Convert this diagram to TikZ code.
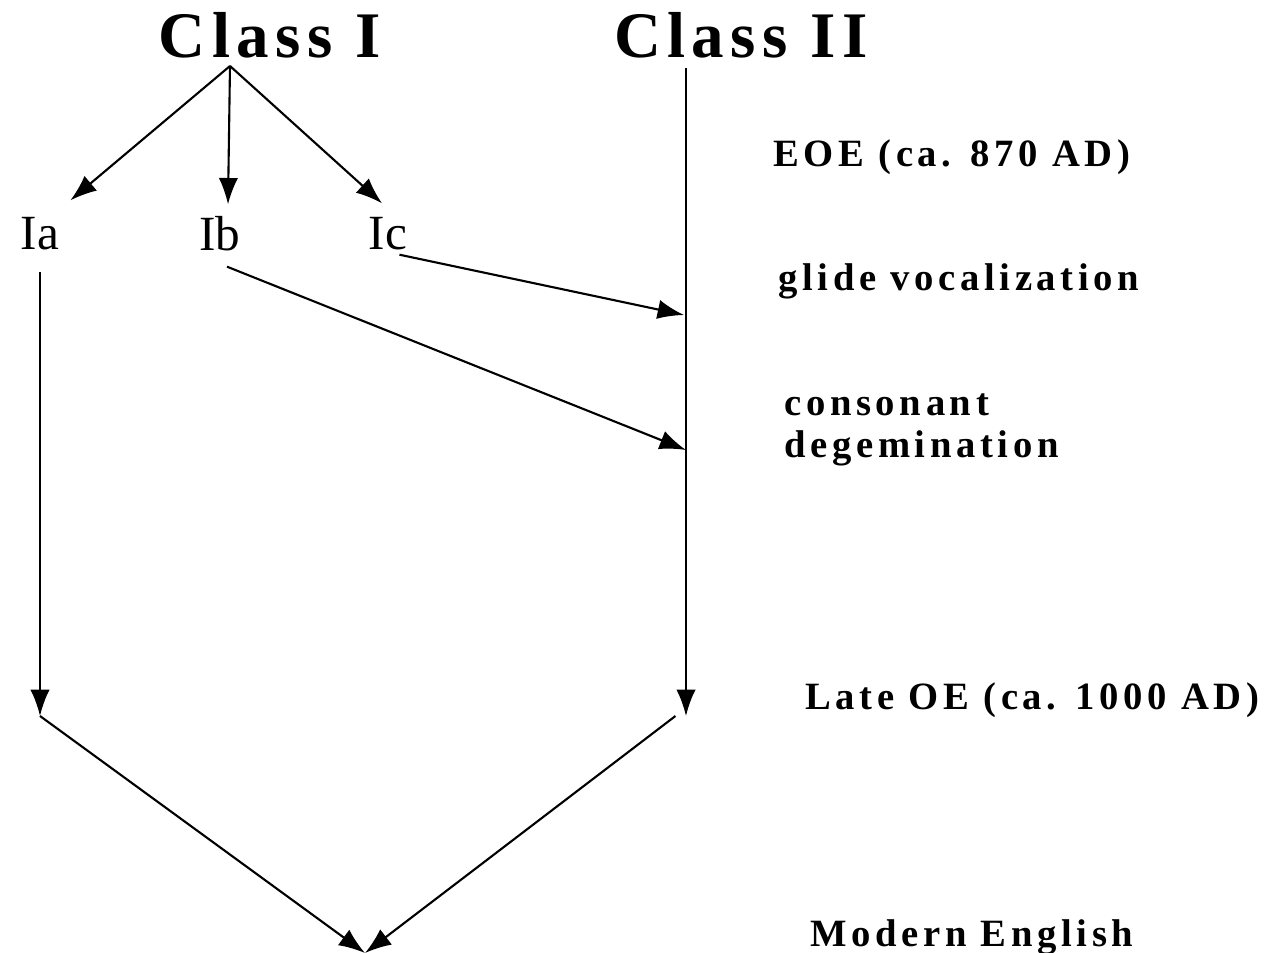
\documentclass[tikz,border=0pt]{standalone}
\usepackage{fontspec}
\setmainfont{Liberation Serif}
\newfontfamily\classfont{Liberation Serif}[LetterSpace=10]
\newfontfamily\stagefont{Liberation Serif}[LetterSpace=12]
\usetikzlibrary{arrows.meta}

\begin{document}
\begin{tikzpicture}[x=0.02cm,y=-0.02cm,
		cls/.style={inner sep=0pt,font=\classfont\bfseries\fontsize{37}{40}\selectfont},
		sub/.style={inner sep=0pt,font=\fontsize{28}{30}\selectfont},
		stage/.style={inner sep=0pt,anchor=west,align=left,font=\stagefont\bfseries\fontsize{22}{24}\selectfont},
		arr/.style={line width=1.2pt,-{Latex[length=15pt,width=11pt]}}]
			\useasboundingbox (0,0) rectangle (1268,953);
			% classes and subclasses
			\node [cls] (cls1) at (270,35) {Class I};
			\node [cls] (cls2) at (741,35) {Class II};
			\node [sub] (Ia) at (40,234) {Ia};
			\node [sub] (Ib) at (220,234) {Ib};
			\node [sub] (Ic) at (388,234) {Ic};
			% stage labels
			\node [stage] (eoe) at (773,157) {EOE (ca. 870 AD)};
			\node [stage] (glide) at (778,281) {glide vocalization};
			\node [stage] (degem) at (784,430) {consonant\\degemination};
			\node [stage] (late) at (805,700) {Late OE (ca. 1000 AD)};
			\node [stage] (modern) at (810,937) {Modern English};
			% points on the lines
			\coordinate (top1) at (230,66);
			\coordinate (top2) at (686,68);
			\coordinate (gv) at (684,315);
			\coordinate (cd) at (686,450);
			\coordinate (late1) at (40,716);
			\coordinate (late2) at (686,716);
			\coordinate (me) at (365,953);
			\draw [arr] (top1) -- ([shift={(11,-17)}]Ia.north east);
			\draw [arr] (top1) -- ([shift={(-2,-12)}]top1 |- Ib.north);
			\draw [arr] (top1) -- ([shift={(-6,-14)}]Ic.north);
			\draw [arr] ([shift={(-8,4)}]Ic.south east) -- (gv);
			\draw [arr] ([shift={(7,15)}]Ib.south) -- (cd);
			\draw [arr] ([yshift=-12]Ia.south) -- (late1);
			\draw [arr] (top2) -- (late2);
			\draw [arr] (late1) -- (me);
			\draw [arr] ([xshift=-6]late2) -- (me);
		\end{tikzpicture}
\end{document}
